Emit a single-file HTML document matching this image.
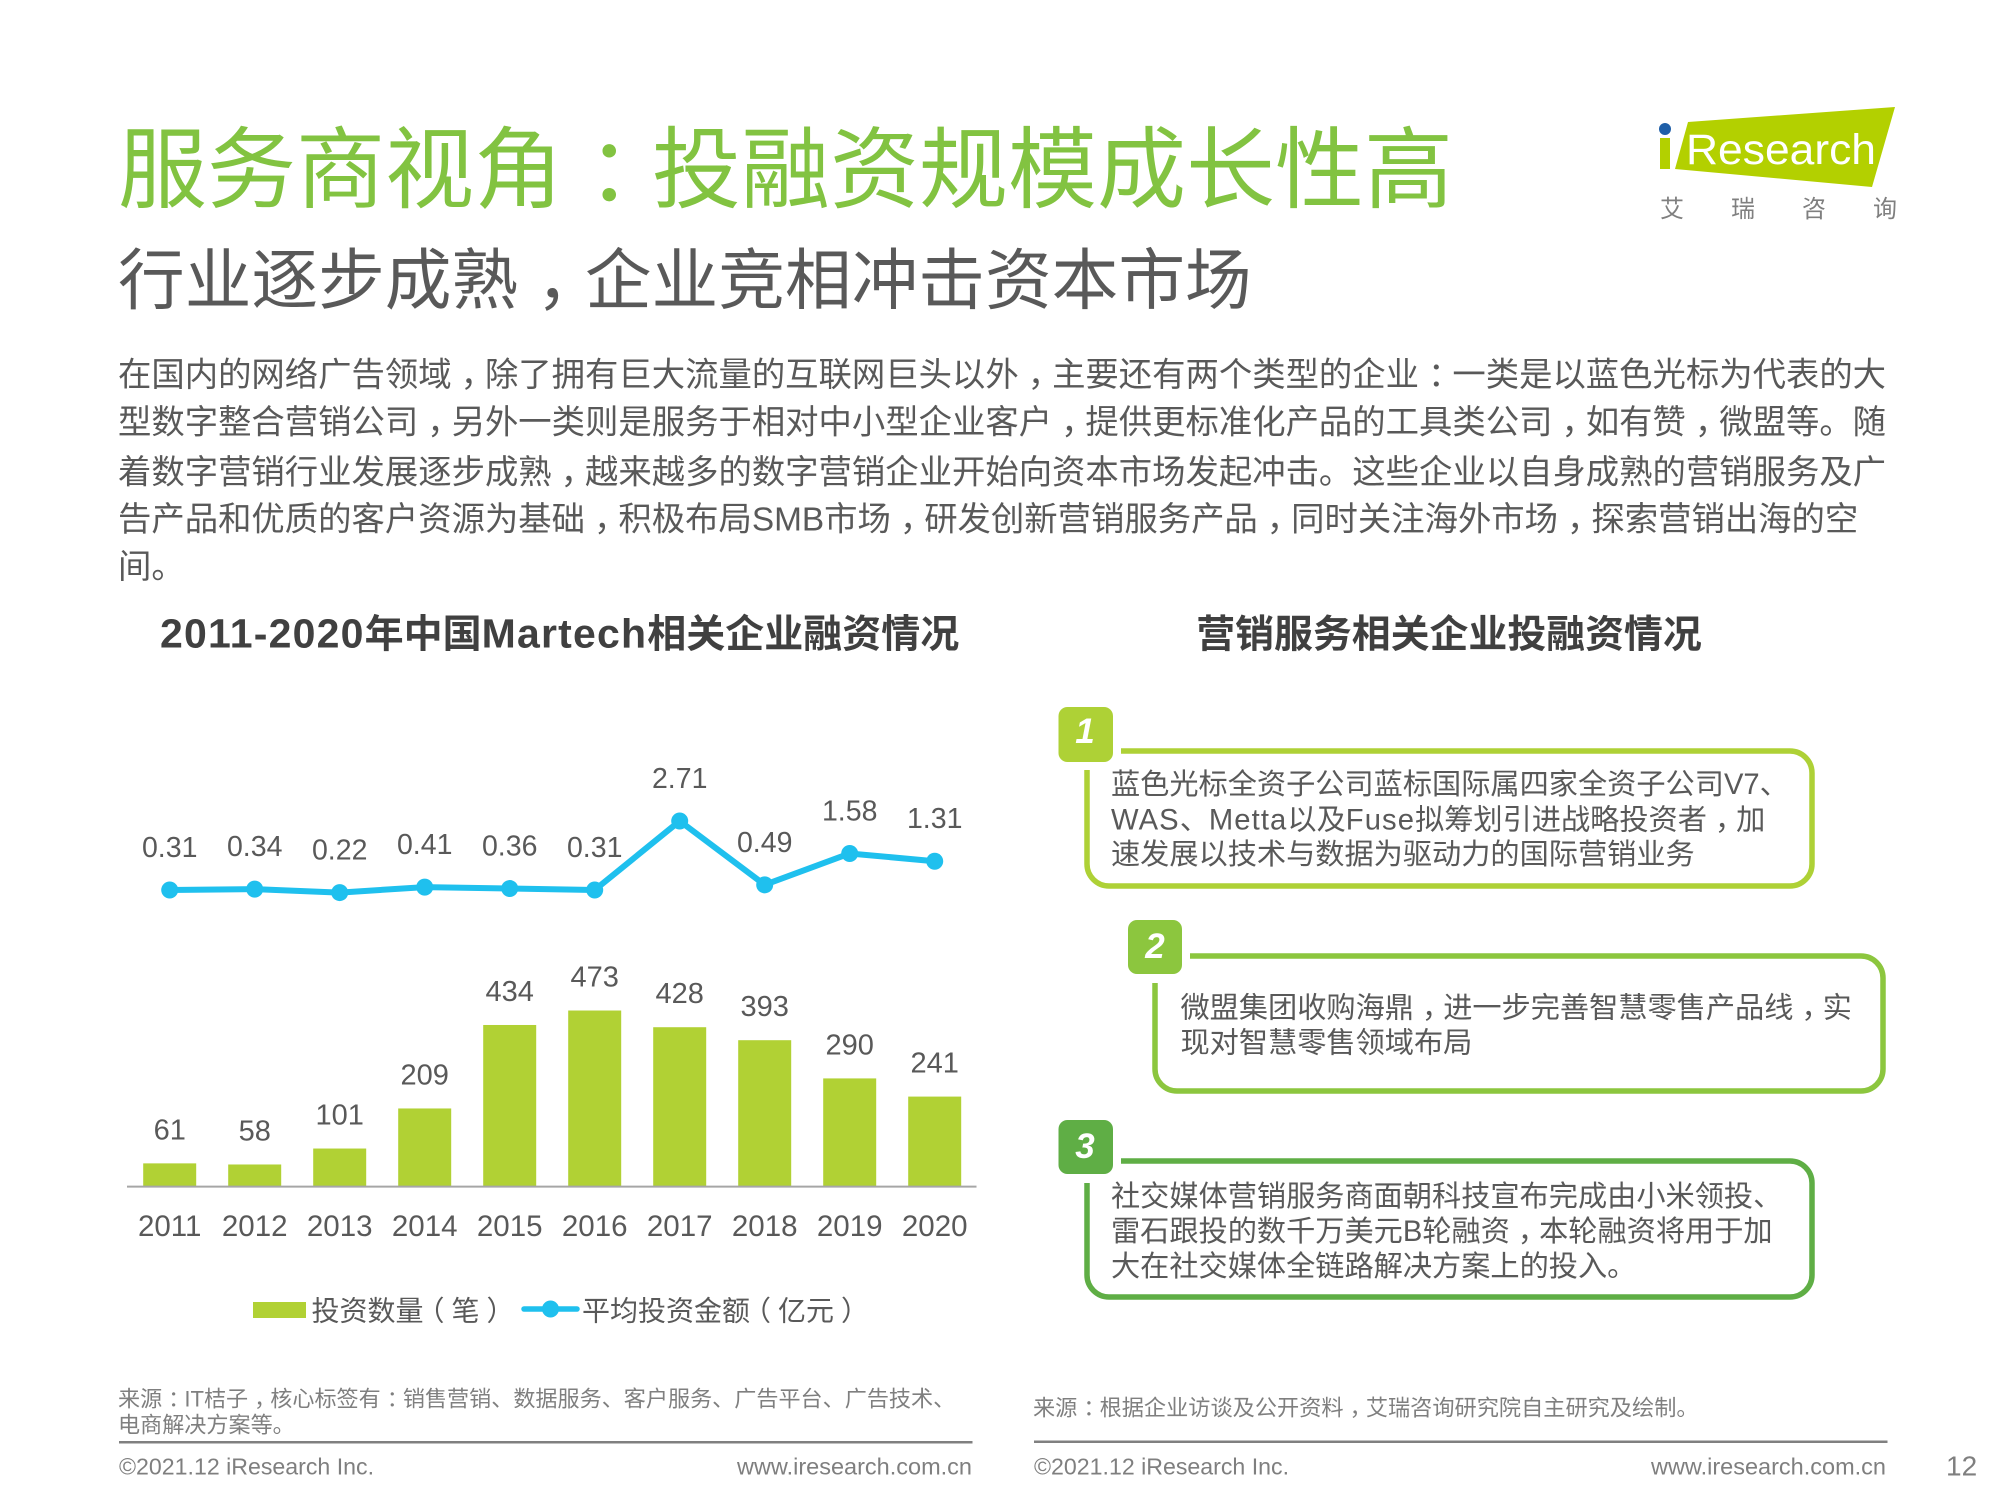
<!DOCTYPE html>
<html lang="zh-CN">
<head>
<meta charset="utf-8">
<title>服务商视角：投融资规模成长性高</title>
<style>
html,body{margin:0;padding:0;background:#fff;width:2000px;height:1500px;overflow:hidden}
svg{display:block;font-family:"Liberation Sans","Noto Sans CJK SC",sans-serif}
.body{font-size:33.36px;fill:#595959}
.card{font-size:29.2px;fill:#595959}
.foot{fill:#7f7f7f}
.badge{font-weight:bold;font-style:italic;font-size:35px;fill:#fff;text-anchor:middle}
</style>
</head>
<body>
<svg id="page" xmlns="http://www.w3.org/2000/svg" width="2000" height="1500" viewBox="0 0 2000 1500">
  <rect width="2000" height="1500" fill="#fff"/>

  <text class="fix" x="118" y="201" font-size="89" fill="#82c341">服务商视角：投融资规模成长性高</text>
  <text class="fix" x="118" y="303.5" font-size="66.7" fill="#595959">行业逐步成熟，企业竞相冲击资本市场</text>

  <g>
    <polygon points="1688,122 1895,107 1872,187 1675,169" fill="#b3d000"/>
    <rect x="1660" y="138" width="10" height="31" fill="#b3d000"/>
    <circle cx="1665" cy="129" r="6" fill="#1f5fa8"/>
    <text x="1686" y="164" font-size="43" fill="#fff" textLength="190" lengthAdjust="spacingAndGlyphs">Research</text>
    <text x="1660" y="217" font-size="24" fill="#7f7f7f">艾</text>
    <text x="1731" y="217" font-size="24" fill="#7f7f7f">瑞</text>
    <text x="1802" y="217" font-size="24" fill="#7f7f7f">咨</text>
    <text x="1873" y="217" font-size="24" fill="#7f7f7f">询</text>
  </g>

  <g>
    <text class="body fix" font-size="33.36" x="118" y="386">在国内的网络广告领域，除了拥有巨大流量的互联网巨头以外，主要还有两个类型的企业：一类是以蓝色光标为代表的大</text>
    <text class="body fix" font-size="33.36" x="118" y="433.5">型数字整合营销公司，另外一类则是服务于相对中小型企业客户，提供更标准化产品的工具类公司，如有赞，微盟等。随</text>
    <text class="body fix" font-size="33.36" x="118" y="483.5">着数字营销行业发展逐步成熟，越来越多的数字营销企业开始向资本市场发起冲击。这些企业以自身成熟的营销服务及广</text>
    <text class="body fix" font-size="33.36" x="118" y="530.5">告产品和优质的客户资源为基础，积极布局SMB市场，研发创新营销服务产品，同时关注海外市场，探索营销出海的空</text>
    <text class="body fix" font-size="33.36" x="118" y="578">间。</text>
  </g>

  <text x="160" y="647.5" font-size="39" font-weight="bold" fill="#404040"><tspan font-size="41" letter-spacing="1.2">2011-2020</tspan>年中国<tspan font-size="41" letter-spacing="1.2">Martech</tspan>相关企业融资情况</text>
  <text x="1449" y="647.5" font-size="38.9" font-weight="bold" fill="#404040" text-anchor="middle">营销服务相关企业投融资情况</text>

  <g id="chart"></g>

  <g>
    <g>
      <rect x="253" y="1302" width="53" height="16" fill="#b1d134"/>
      <text class="fix" x="311.5" y="1320.5" font-size="28" fill="#595959">投资数量（笔）</text>
    </g>
    <g>
      <line x1="524" y1="1309" x2="577" y2="1309" stroke="#1fc0ee" stroke-width="5.5" stroke-linecap="round"/>
      <circle cx="550.5" cy="1309" r="8.5" fill="#1fc0ee"/>
      <text class="fix" x="582" y="1320.5" font-size="28" fill="#595959">平均投资金额（亿元）</text>
    </g>
  </g>

  <g>
    <path d="M1121,751 H1790 a22,22 0 0 1 22,22 V864 a22,22 0 0 1 -22,22 H1109 a22,22 0 0 1 -22,-22 V770" fill="none" stroke="#aed136" stroke-width="5.5"/>
    <rect x="1058.5" y="707" width="54.5" height="55" rx="9" fill="#aed136"/>
    <text class="badge" x="1085" y="743">1</text>
    <text class="card fix" font-size="29.2" x="1111" y="794">蓝色光标全资子公司蓝标国际属四家全资子公司V7、</text>
    <text class="card fix" font-size="29.2" data-latin-spacing="1.1" x="1111" y="829.5">WAS、Metta以及Fuse拟筹划引进战略投资者，加</text>
    <text class="card fix" font-size="29.2" x="1111" y="864">速发展以技术与数据为驱动力的国际营销业务</text>
  </g>

  <g>
    <path d="M1190,956 H1861 a22,22 0 0 1 22,22 V1069 a22,22 0 0 1 -22,22 H1177 a22,22 0 0 1 -22,-22 V983" fill="none" stroke="#8cc63e" stroke-width="5.5"/>
    <rect x="1128" y="920" width="54" height="54" rx="9" fill="#8cc63e"/>
    <text class="badge" x="1155" y="958">2</text>
    <text class="card fix" font-size="29.2" x="1180.5" y="1017.5">微盟集团收购海鼎，进一步完善智慧零售产品线，实</text>
    <text class="card fix" font-size="29.2" x="1180.5" y="1052.5">现对智慧零售领域布局</text>
  </g>

  <g>
    <path d="M1121,1161 H1790 a22,22 0 0 1 22,22 V1275 a22,22 0 0 1 -22,22 H1109 a22,22 0 0 1 -22,-22 V1183" fill="none" stroke="#5fae45" stroke-width="5.5"/>
    <rect x="1058.5" y="1120" width="54.5" height="54" rx="9" fill="#5fae45"/>
    <text class="badge" x="1085" y="1158">3</text>
    <text class="card fix" font-size="29.2" x="1111" y="1206">社交媒体营销服务商面朝科技宣布完成由小米领投、</text>
    <text class="card fix" font-size="29.2" x="1111" y="1241">雷石跟投的数千万美元B轮融资，本轮融资将用于加</text>
    <text class="card fix" font-size="29.2" x="1111" y="1276">大在社交媒体全链路解决方案上的投入。</text>
  </g>

  <g>
    <text class="foot fix" x="118" y="1406.5" font-size="22.1">来源：IT桔子，核心标签有：销售营销、数据服务、客户服务、广告平台、广告技术、</text>
    <text class="foot fix" x="118" y="1432.5" font-size="22.1">电商解决方案等。</text>
    <line x1="119" y1="1442.3" x2="972.5" y2="1442.3" stroke="#808080" stroke-width="2.5"/>
    <text class="foot" x="119" y="1474.5" font-size="23" textLength="255" lengthAdjust="spacingAndGlyphs">©2021.12 iResearch Inc.</text>
    <text class="foot" x="737" y="1474.5" font-size="23" textLength="235" lengthAdjust="spacingAndGlyphs">www.iresearch.com.cn</text>
  </g>

  <g>
    <text class="foot fix" x="1033" y="1415.5" font-size="22.2">来源：根据企业访谈及公开资料，艾瑞咨询研究院自主研究及绘制。</text>
    <line x1="1034" y1="1441.8" x2="1887.5" y2="1441.8" stroke="#808080" stroke-width="2.5"/>
    <text class="foot" x="1034" y="1474.5" font-size="23" textLength="255" lengthAdjust="spacingAndGlyphs">©2021.12 iResearch Inc.</text>
    <text class="foot" x="1651" y="1474.5" font-size="23" textLength="235" lengthAdjust="spacingAndGlyphs">www.iresearch.com.cn</text>
    <text class="foot" x="1946" y="1475.5" font-size="28">12</text>
  </g>
</svg>

<script>
const years = ['2011','2012','2013','2014','2015','2016','2017','2018','2019','2020'];
const investmentCounts = [61,58,101,209,434,473,428,393,290,241];
const averageAmounts = [0.31,0.34,0.22,0.41,0.36,0.31,2.71,0.49,1.58,1.31];

const SVG_NS = 'http://www.w3.org/2000/svg';
const chart = document.getElementById('chart');
const xAt = function (i) { return 169.7 + i * 85; };
const yBar = function (v) { return 1186 - v * 0.371; };
const yLine = function (v) { return 898.9 - v * 28.75; };

function make(tag, attrs, parent) {
  const el = document.createElementNS(SVG_NS, tag);
  Object.keys(attrs).forEach(function (k) { el.setAttribute(k, attrs[k]); });
  parent.appendChild(el);
  return el;
}

years.forEach(function (year, i) {
  const bar = make('rect', { x: xAt(i) - 26.5, y: yBar(investmentCounts[i]), width: 53, height: 1186 - yBar(investmentCounts[i]), fill: '#b1d134' }, chart);
  
  

  const barLabel = make('text', { x: xAt(i), y: yBar(investmentCounts[i]) - 24, 'font-size': 29, fill: '#595959', 'text-anchor': 'middle' }, chart);
  barLabel.textContent = String(investmentCounts[i]);
  
  

  const tick = make('text', { x: xAt(i), y: 1236, 'font-size': 29.5, fill: '#595959', 'text-anchor': 'middle' }, chart);
  tick.textContent = year;
  
  
});

const axis = make('line', { x1: 127, x2: 976.5, y1: 1186.6, y2: 1186.6, stroke: '#a6a6a6', 'stroke-width': 2 }, chart);



const linePoints = averageAmounts.map(function (v, i) { return xAt(i) + ',' + yLine(v); }).join(' ');
const amountLine = make('polyline', { points: linePoints, fill: 'none', stroke: '#1fc0ee', 'stroke-width': 6, 'stroke-linejoin': 'round' }, chart);



averageAmounts.forEach(function (v, i) {
  const dot = make('circle', { cx: xAt(i), cy: yLine(v), r: 8.5, fill: '#1fc0ee' }, chart);
  
  

  const label = make('text', { x: xAt(i), y: yLine(v) - 33, 'font-size': 28.5, fill: '#595959', 'text-anchor': 'middle' }, chart);
  label.textContent = v.toFixed(2);
  
  
});

/* Centre full-width punctuation in its em box without changing the characters. */
const shifts = { '，': 0.27, '：': 0.27, '（': -0.25, '）': 0.25 };
document.querySelectorAll('text.fix').forEach(function (el) {
  const fs = parseFloat(el.getAttribute('font-size'));
  const latinSpacing = el.getAttribute('data-latin-spacing');
  const source = el.textContent;
  el.textContent = '';
  let buf = '', dx = 0, back = 0, latinRun = false;
  const flush = function () {
    if (!buf) return;
    const t = document.createElementNS(SVG_NS, 'tspan');
    if (dx) t.setAttribute('dx', dx.toFixed(2));
    if (latinRun && latinSpacing) t.setAttribute('letter-spacing', latinSpacing);
    t.textContent = buf;
    el.appendChild(t);
    buf = '';
    dx = 0;
  };
  for (const ch of source) {
    const sh = shifts[ch] || 0;
    const isLatin = /[A-Za-z]/.test(ch);
    if (sh) {
      flush();
      latinRun = false;
      dx = back + sh * fs;
      buf = ch;
      flush();
      back = -sh * fs;
    } else {
      if (back || isLatin !== latinRun) {
        flush();
        latinRun = isLatin;
        if (back) { dx = back; back = 0; }
      }
      buf += ch;
    }
  }
  flush();
});
</script>
</body>
</html>
